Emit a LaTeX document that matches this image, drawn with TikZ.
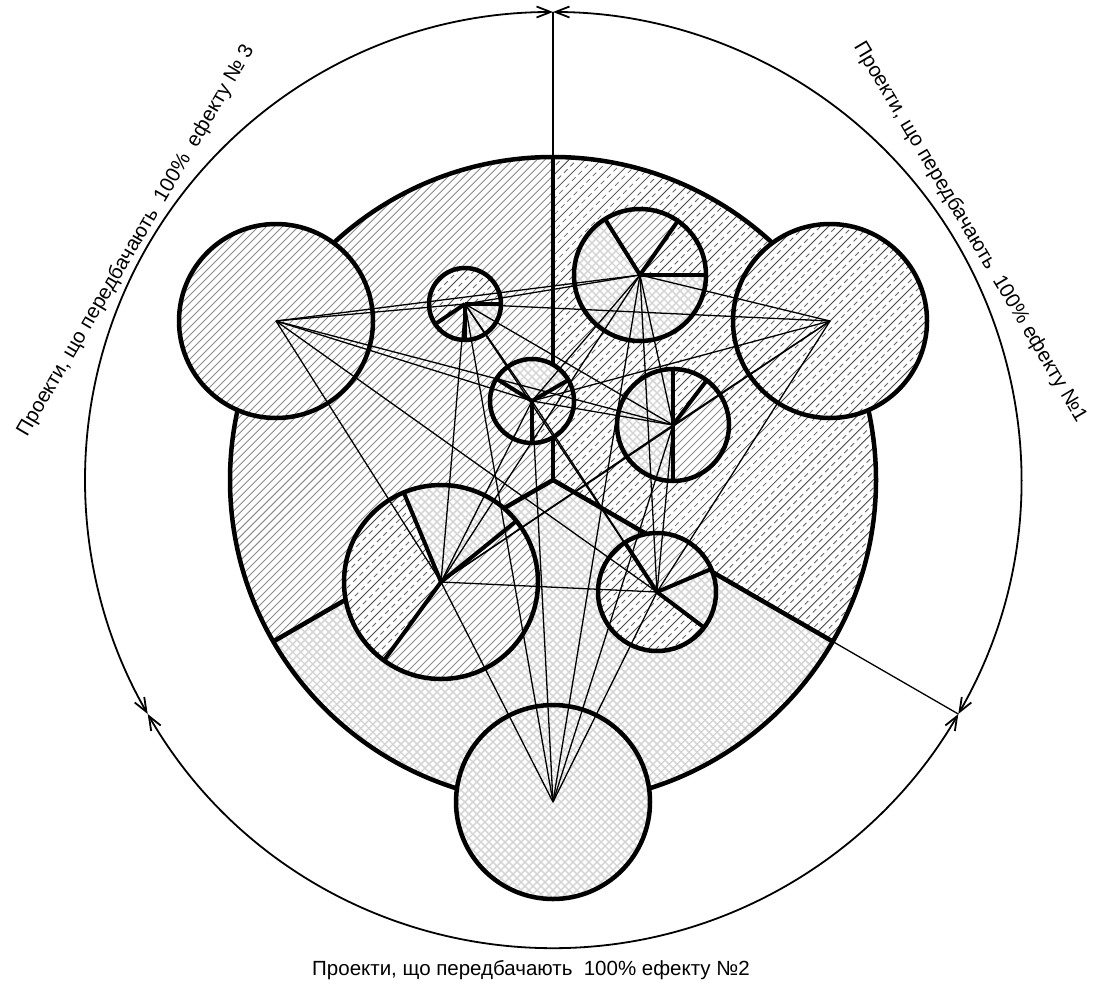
\documentclass[tikz,border=0pt]{standalone}
\usepackage{fontspec}
\setmainfont{Liberation Sans}
\usetikzlibrary{arrows.meta,calc}
\tikzset{
  pone/.style={draw=black!72,line width=0.85pt},
  ponedash/.style={draw=black!60,line width=0.85pt,dash pattern=on 5pt off 4pt},
  ptwo/.style={draw=black!17,line width=1.4pt},
  pthree/.style={draw=black!45,line width=0.9pt},
  thickline/.style={line width=4.5pt},
  radline/.style={line width=4pt},
  conn/.style={line width=1.3pt},
  outerarc/.style={line width=1.8pt,{Straight Barb[length=14pt,width=11pt]}-{Straight Barb[length=14pt,width=11pt]}},
  lbl/.style={font=\fontsize{20.5}{24}\selectfont,inner sep=0pt}
}
\newcommand\fillpat[3]{%
  \begin{scope}[shift={#2},rotate=45]
    \pgfmathtruncatemacro\nn{#3/5.66+2}
    \foreach \k in {-\nn,...,\nn}{%
      \ifcase#1\or
        \ifodd\k \draw[ponedash] (-#3-10,\k*5.66) -- (#3+10,\k*5.66);\else \draw[pone] (-#3-10,\k*5.66) -- (#3+10,\k*5.66);\fi
      \or
        \draw[ptwo] (-#3-10,\k*5.66) -- (#3+10,\k*5.66);
        \draw[ptwo] (\k*5.66,-#3-10) -- (\k*5.66,#3+10);
      \or
        \draw[pthree] (-#3-10,\k*5.66) -- (#3+10,\k*5.66);
      \fi}
  \end{scope}}
\newcommand\pieslice[5]{%
  \begin{scope}
    \clip (#1) -- ++(#3:#2) arc[start angle=#3,end angle=#4,radius=#2] -- cycle;
    \fillpat{#5}{(#1)}{#2}
  \end{scope}}
\begin{document}
\begin{tikzpicture}[x=1pt,y=1pt]
\useasboundingbox (0,0) rectangle (1094,-988);
\fill[white] (0,0) rectangle (1094,-988);
% centres
\coordinate (O) at (553,-480);
\coordinate (L) at (276,-321);
\coordinate (R) at (830,-321);
\coordinate (B) at (553,-802);
\coordinate (P1) at (465,-304);
\coordinate (P2) at (640,-275);
\coordinate (P3) at (532,-401);
\coordinate (P4) at (673,-425);
\coordinate (P5) at (441,-582);
\coordinate (P6) at (657,-592);
\coordinate (b90) at ($(O)+(90:323)$);
\coordinate (b210) at ($(O)+(210:323)$);
\coordinate (b330) at ($(O)+(330:323)$);
\coordinate (o90) at ($(O)+(90:468)$);
\coordinate (o210) at ($(O)+(210:468)$);
\coordinate (o330) at ($(O)+(330:468)$);
% big circle sectors
\pieslice{O}{323}{-30}{90}{1}
\pieslice{O}{323}{90}{210}{3}
\pieslice{O}{323}{210}{330}{2}
\draw[thickline] (O) circle[radius=323];
\draw[thickline] (O) -- (b90);
\draw[thickline] (O) -- (b210);
\draw[thickline] (O) -- (b330);
% 100% circles
\foreach \n/\t in {L/3,R/1,B/2}{%
  \fill[white] (\n) circle[radius=97];
  \pieslice{\n}{97}{0}{360}{\t}
  \draw[thickline] (\n) circle[radius=97];}
% projects
\foreach \n/\r in {P1/36,P2/66,P3/42,P4/56,P5/97,P6/59}{\fill[white] (\n) circle[radius=\r];}
\pieslice{P1}{36}{0}{214}{1}
\pieslice{P1}{36}{214}{270}{3}
\pieslice{P1}{36}{270}{360}{2}
\pieslice{P2}{66}{0}{55}{1}
\pieslice{P2}{66}{55}{122}{3}
\pieslice{P2}{66}{122}{360}{2}
\pieslice{P3}{42}{30}{148}{2}
\pieslice{P3}{42}{148}{270}{3}
\pieslice{P3}{42}{270}{390}{1}
\pieslice{P4}{56}{90}{270}{2}
\pieslice{P4}{56}{270}{413}{3}
\pieslice{P4}{56}{53}{90}{1}
\pieslice{P5}{97}{39}{112.6}{2}
\pieslice{P5}{97}{112.6}{234}{1}
\pieslice{P5}{97}{234}{399}{3}
\pieslice{P6}{59}{23}{123}{3}
\pieslice{P6}{59}{123}{323}{1}
\pieslice{P6}{59}{323}{383}{2}
\foreach \n/\r/\a/\b/\c in {P1/36/0/214/270,P2/66/0/55/122,P3/42/30/148/270,P4/56/53/90/270,P5/97/39/112.6/234,P6/59/23/123/323}{%
  \draw[radline] (\n) -- ++(\a:\r);
  \draw[radline] (\n) -- ++(\b:\r);
  \draw[radline] (\n) -- ++(\c:\r);
  \draw[thickline] (\n) circle[radius=\r];}
% connections
\foreach \a in {L,R,B}{\foreach \p in {P1,P2,P3,P4,P5,P6}{\draw[conn] (\a) -- (\p);}}
\foreach \a/\b in {P1/P2,P1/P3,P1/P4,P1/P5,P1/P6,P2/P3,P2/P4,P2/P5,P2/P6,P3/P4,P3/P5,P3/P6,P4/P5,P4/P6,P5/P6}{\draw[conn] (\a) -- (\b);}
% outer dimension arcs
\draw[outerarc] (o90) arc[start angle=90,end angle=210,radius=468];
\draw[outerarc] (o210) arc[start angle=210,end angle=330,radius=468];
\draw[outerarc] (o330) arc[start angle=330,end angle=450,radius=468];
\draw[conn] (b90) -- (o90);
\draw[conn] (b330) -- (o330);
% labels
\node[lbl,rotate=59.6] (t3) at (136,-241) {Проекти, що передбачають\ \ 100\%\ \ ефекту № 3};
\node[lbl,rotate=-59.3] (t1) at (970,-232) {Проекти, що передбачають\ \ 100\% ефекту №1};
\node[lbl] (t2) at (531,-970) {Проекти, що передбачають\ \ 100\% ефекту №2};
\end{tikzpicture}
\end{document}
